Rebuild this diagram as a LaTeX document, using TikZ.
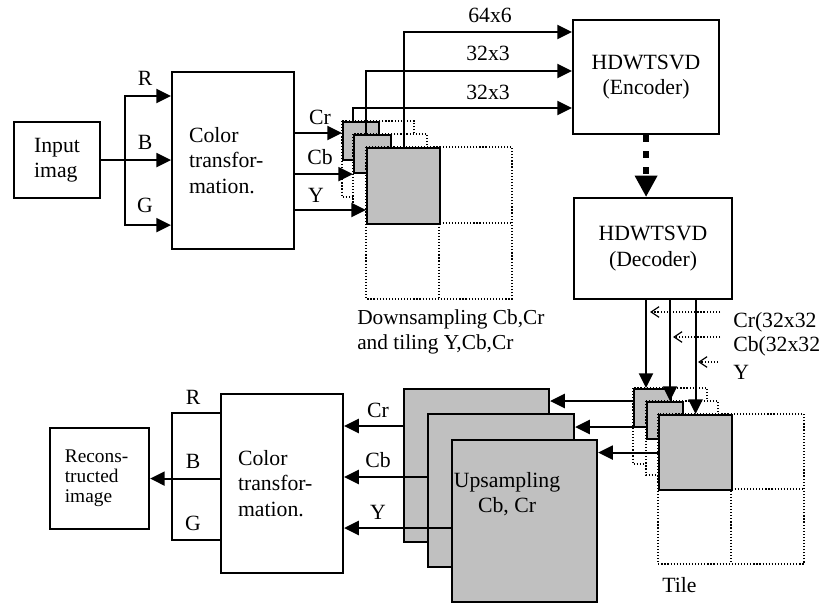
\documentclass[tikz,border=0pt]{standalone}
\usepackage{fontspec}
\setmainfont{Liberation Serif}
\usetikzlibrary{positioning, arrows.meta, calc}
\definecolor{tilegray}{HTML}{C0C0C0}

\tikzset{
  blk/.style={draw, line width=1.6pt, fill=white, inner sep=0pt, anchor=north west},
  upbox/.style={blk, fill=tilegray},
  sq/.style={draw, line width=1.6pt, fill=tilegray, inner sep=0pt, anchor=north west},
  cell/.style={draw, line width=0.9pt, dash pattern=on 0.9pt off 1.4pt, fill=white},
  link/.style={line width=1.6pt},
  arr/.style={link, -{Triangle[length=11pt, width=10.5pt]}},
  bigdots/.style={line width=5pt, dash pattern=on 5pt off 7pt, -{Triangle[length=16pt, width=16pt]}},
  hint/.style={line width=0.9pt, dash pattern=on 0.9pt off 1.4pt, -{Straight Barb[length=6pt, width=8pt]}},
  lbl/.style={inner sep=0pt}
}

% dotted 2x2 tile with the grey top-left square
\newcommand{\tilestack}[5]{%
  \draw[cell] (#2,#3) rectangle ++(2*#4,2*#5);
  \draw[cell] (#2+#4,#3) -- ++(0,2*#5) (#2,#3+#5) -- ++(2*#4,0);
  \node[sq, minimum width=#4*0.75pt, minimum height=#5*0.75pt] (#1) at (#2,#3) {};}

\begin{document}
\begin{tikzpicture}[x=0.75pt, y=-0.75pt, font=\fontsize{16.3pt}{19pt}\selectfont]
  \useasboundingbox (0,0) rectangle (827,603);

  % encoder side
  \node[blk, align=left, minimum width=64.5pt, minimum height=57pt] (inimg) at (13,121) {Input\\imag};
  \node[blk, align=left, text width=66pt, inner xsep=12.75pt, minimum height=132.75pt] (colA) at (171,71) {Color\\transfor-\\mation.};
  \node[blk, align=center, minimum width=109.5pt, minimum height=85.5pt] (enc) at (572,19) {HDWTSVD\\(Encoder)};

  \coordinate (split) at ($(inimg.east)+(24,0)$);
  \draw[link] (inimg.east) -- (split);
  \draw[arr] (split) |- ($(colA.north west)+(0,25)$);
  \draw[arr] (split) -- (split -| colA.west);
  \draw[arr] (split) |- ($(colA.south west)+(0,-25)$);
  \node[lbl] (rA) at (145,78) {R};
  \node[lbl] (bA) at (145,142) {B};
  \node[lbl] (gA) at (145,205) {G};

  \tilestack{s1}{342}{121}{36}{38}
  \tilestack{s2}{353}{134}{37}{38}
  \tilestack{s3}{366}{147}{73}{76}

  \coordinate (crA) at ($(colA.north east)+(0,62)$);
  \coordinate (yA) at ($(colA.north east)+(0,139)$);
  \draw[arr] (crA) -- (crA -| s1.west);
  \draw[arr] (colA.east |- s2.south west) -- (s2.south west);
  \draw[arr] (yA) -- (yA -| s3.west);
  \node[lbl] (crlA) at (320,117) {Cr};
  \node[lbl] (cblA) at (320,157) {Cb};
  \node[lbl] (ylA) at (316,195) {Y};

  \draw[arr] ($(s1.north west)+(11,0)$) |- ($(enc.north west)+(0,89)$);
  \draw[arr] ($(s2.north west)+(13,0)$) |- ($(enc.north west)+(0,52)$);
  \draw[arr] (s3.north) |- ($(enc.north west)+(0,13)$);
  \node[lbl] (sz1) at (490,15) {64x6};
  \node[lbl] (sz2) at (488,53) {32x3};
  \node[lbl] (sz3) at (488,92) {32x3};

  \node[lbl, align=left, anchor=west, font=\fontsize{16pt}{19pt}\selectfont] (dscap) at (357,332) {Downsampling Cb,Cr\\and tiling Y,Cb,Cr};

  % decoder side
  \node[blk, align=center, minimum width=118.5pt, minimum height=75.75pt] (dec) at (573,197) {HDWTSVD\\(Decoder)};
  \draw[bigdots] (enc.south) -- (enc.south |- dec.north);

  \tilestack{t1}{633}{388}{37}{38}
  \tilestack{t2}{646}{401}{36}{37}
  \tilestack{t3}{658}{414}{73}{75}

  \coordinate (d1) at ($(t1.north west)+(13,0)$);
  \coordinate (d2) at ($(t2.north west)+(24,0)$);
  \draw[arr] (d1 |- dec.south) -- (d1);
  \draw[arr] (d2 |- dec.south) -- (d2);
  \draw[arr] (t3.north |- dec.south) -- (t3.north);

  \node[lbl, anchor=west] (crhint) at (733,322) {Cr(32x32};
  \node[lbl, anchor=west] (cbhint) at (733,346) {Cb(32x32};
  \node[lbl, anchor=west] (yhint) at (733,372) {Y};
  \draw[hint] ($(crhint.west)+(-13,-10)$) -- ++(-70,0);
  \draw[hint] ($(cbhint.west)+(-13,-9)$) -- ++(-47,0);
  \draw[hint] ($(yhint.west)+(-15,-10)$) -- ++(-20,0);

  \node[upbox, minimum width=108.75pt, minimum height=114.75pt] (up1) at (403,388) {};
  \node[upbox, minimum width=109.5pt, minimum height=114.75pt] (up2) at (427,413) {};
  \node[upbox, minimum width=108.75pt, minimum height=121.5pt] (up3) at (451,439) {};
  \node[lbl, align=center] (uptxt) at (507,494) {Upsampling\\Cb, Cr};

  \coordinate (e1) at ($(t1.north west)+(0,13)$);
  \coordinate (e2) at ($(t2.north west)+(0,26)$);
  \draw[arr] (e1) -- (e1 -| up1.east);
  \draw[arr] (e2) -- (e2 -| up2.east);
  \draw[arr] (t3.west) -- (t3.west -| up3.east);
  \node[lbl, anchor=west] (tilecap) at (662,585) {Tile};

  \node[blk, align=left, text width=66pt, inner xsep=12.75pt, minimum height=134.25pt] (colB) at (220,393) {Color\\transfor-\\mation.};
  \node[blk, align=left, text width=52pt, inner xsep=11.1pt, minimum height=75.75pt, font=\fontsize{14.5pt}{15pt}\selectfont] (recon) at (49,427) {Recons-\\tructed\\image};

  \coordinate (u1) at ($(up1.north west)+(0,38)$);
  \coordinate (u2) at ($(up2.north west)+(0,64)$);
  \coordinate (u3) at ($(up3.north west)+(0,89)$);
  \draw[arr] (u1) -- (u1 -| colB.east);
  \draw[arr] (u2) -- (u2 -| colB.east);
  \draw[arr] (u3) -- (u3 -| colB.east);
  \node[lbl] (crlB) at (378,410) {Cr};
  \node[lbl] (cblB) at (378,460) {Cb};
  \node[lbl] (ylB) at (378,512) {Y};

  \draw[link] ($(colB.north west)+(0,20)$) -- ++(-48,0) -- ++(0,127) -- ++(48,0);
  \draw[arr] (colB.west |- recon.east) -- (recon.east);
  \node[lbl] (rB) at (193,397) {R};
  \node[lbl] (bB) at (193,461) {B};
  \node[lbl] (gB) at (193,523) {G};
\end{tikzpicture}
\end{document}
